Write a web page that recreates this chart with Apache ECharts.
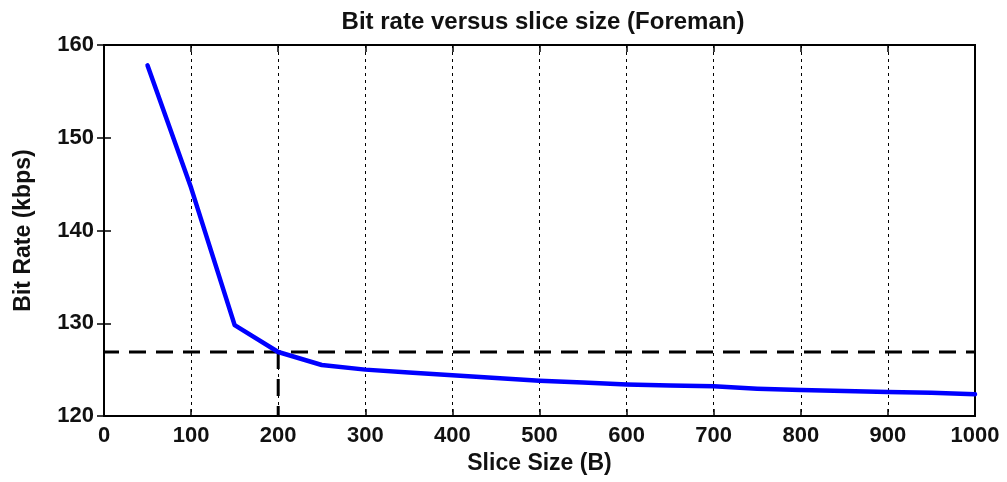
<!DOCTYPE html>
<html>
<head>
<meta charset="utf-8">
<script src="https://cdn.jsdelivr.net/npm/echarts@6/dist/echarts.min.js"></script>
<style>
  html, body { margin: 0; padding: 0; background: #fff; }
  #chart { width: 1007px; height: 482px; }
</style>
</head>
<body>
<div id="chart"></div>
<script>
// Slice sizes (bytes) and the resulting bit rate (kbps) for Foreman
const sliceSizes = [50, 100, 150, 200, 250, 300, 350, 400, 450, 500, 550, 600, 650, 700, 750, 800, 850, 900, 950, 1000];
const bitRates = [157.8, 144.6, 129.8, 126.9, 125.5, 125.0, 124.7, 124.4, 124.1, 123.8, 123.6, 123.4, 123.3, 123.2, 122.95, 122.8, 122.7, 122.6, 122.5, 122.35];

// Reference operating point marked by the dashed lines
const refSlice = 200;
const refRate = 126.9;

const xTicks = [0, 100, 200, 300, 400, 500, 600, 700, 800, 900, 1000];
const yTicks = [120, 130, 140, 150, 160];

const FONT = 'Liberation Sans, Arial, sans-serif';
const tickText = { color: '#111', fontFamily: FONT, fontWeight: 'bold', fontSize: 22 };
const nameText = { color: '#111', fontFamily: FONT, fontWeight: 'bold', fontSize: 23 };

const chart = echarts.init(document.getElementById('chart'), null, { renderer: 'canvas' });

const hiddenLabels = { show: false };
const tickIn = { show: true, inside: true, length: 7, lineStyle: { color: '#000', width: 1.5 } };

chart.setOption({
  animation: false,
  backgroundColor: '#fff',
  title: {
    text: 'Bit rate versus slice size (Foreman)',
    left: 538, top: 5, textAlign: 'center',
    textStyle: { color: '#111', fontFamily: FONT, fontWeight: 'bold', fontSize: 24 }
  },
  grid: {
    left: 104, right: 32, top: 45, bottom: 66,
    containLabel: false, outerBoundsMode: 'none',
    show: true, borderColor: '#000', borderWidth: 2, backgroundColor: '#fff'
  },
  xAxis: [{
    type: 'value', min: xTicks[0], max: xTicks[xTicks.length - 1], interval: 100,
    name: 'Slice Size (B)', nameLocation: 'middle', nameGap: 36,
    nameTextStyle: nameText,
    axisLine: { show: true, lineStyle: { color: '#000', width: 2 } },
    axisTick: tickIn,
    axisLabel: Object.assign({ margin: 9, formatter: v => String(v) }, tickText),
    splitLine: { show: true, lineStyle: { color: '#000', width: 1, type: [3, 4] } }
  }, {
    type: 'value', position: 'top', min: xTicks[0], max: xTicks[xTicks.length - 1], interval: 100,
    axisLine: { show: true, lineStyle: { color: '#000', width: 2 } },
    axisTick: tickIn, axisLabel: hiddenLabels, splitLine: { show: false }
  }],
  yAxis: [{
    type: 'value', min: yTicks[0], max: yTicks[yTicks.length - 1], interval: 10,
    name: 'Bit Rate (kbps)', nameLocation: 'middle', nameGap: 69, nameRotate: 90,
    nameTextStyle: nameText,
    axisLine: { show: true, lineStyle: { color: '#000', width: 2 } },
    axisTick: tickIn,
    axisLabel: Object.assign({ margin: 10 }, tickText),
    splitLine: { show: false }
  }, {
    type: 'value', position: 'right', min: yTicks[0], max: yTicks[yTicks.length - 1], interval: 10,
    axisLine: { show: true, lineStyle: { color: '#000', width: 2 } },
    axisTick: tickIn, axisLabel: hiddenLabels, splitLine: { show: false }
  }],
  series: [{
    type: 'line',
    data: [[xTicks[0], refRate], [xTicks[xTicks.length - 1], refRate]],
    symbol: 'none', silent: true, z: 3,
    lineStyle: { color: '#000', width: 3, type: [17, 10], dashOffset: 2 }
  }, {
    type: 'line',
    data: [[refSlice, refRate], [refSlice, yTicks[0]]],
    symbol: 'none', silent: true, z: 3,
    lineStyle: { color: '#000', width: 3, type: [17, 10] }
  }, {
    type: 'line',
    data: sliceSizes.map((s, i) => [s, bitRates[i]]),
    symbol: 'none', z: 4,
    lineStyle: { color: '#0000ff', width: 4.5, join: 'round', cap: 'round' }
  }]
});
</script>
</body>
</html>
